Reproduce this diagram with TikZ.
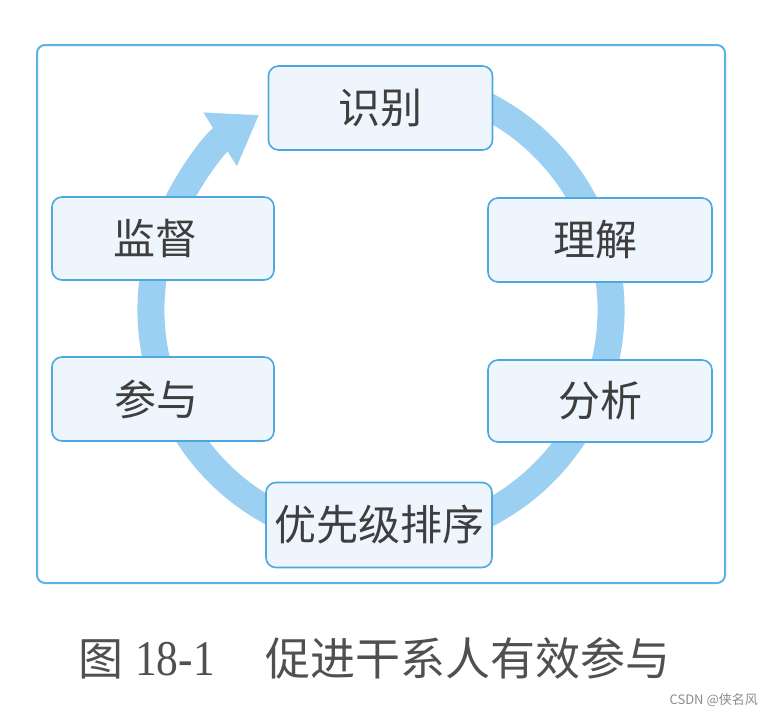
\documentclass[tikz,border=0pt]{standalone}
\usepackage{fontspec}
\newfontfamily\cjk{Noto Sans CJK SC}
\newfontfamily\numfont{Liberation Serif}
\usetikzlibrary{arrows.meta}
\definecolor{frameblue}{RGB}{95,178,228}
\definecolor{boxblue}{RGB}{78,168,224}
\definecolor{boxfill}{RGB}{238,245,252}
\definecolor{ringblue}{RGB}{156,208,243}
\definecolor{txtgray}{RGB}{62,62,62}
\definecolor{capgray}{RGB}{80,80,80}
\definecolor{markgray}{RGB}{140,140,140}
\begin{document}
\begin{tikzpicture}[x=1pt,y=-1pt,
  stagebox/.style={draw=boxblue, line width=1.6pt, fill=boxfill, rounded corners=10pt,
    minimum width=224pt, minimum height=84pt, inner sep=0pt,
    font=\cjk\fontsize{42}{46}\selectfont, text=txtgray},
  captext/.style={inner sep=0pt, text=capgray, anchor=base west}]
\useasboundingbox (0,0) rectangle (766,720);
\fill[white] (0,0) rectangle (766,720);
% outer frame
\node[draw=frameblue, line width=2pt, rounded corners=8pt, minimum width=688pt,
  minimum height=538pt, inner sep=0pt] (frame) at (381,314) {};
% cycle ring
\coordinate (c) at (381,310);
\draw[ringblue, line width=27pt, -{Triangle[width=60pt,length=46pt]}]
  ([shift={(70:230pt)}]c) arc[start angle=70, end angle=-238, radius=230pt];
% stages
\node[stagebox] (shibie) at (380.5,108) {识别};
\node[stagebox] (lijie) at (600,240) {\hspace*{-10pt}理解};
\node[stagebox, minimum height=82pt] (fenxi) at (600,401) {分析};
\node[stagebox, minimum width=226pt, minimum height=85pt] (paixu) at (379,525) {优先级排序};
\node[stagebox, minimum width=222pt] (canyu) at (163,399) {\hspace*{-14pt}参与};
\node[stagebox, minimum width=222pt, minimum height=83pt] (jiandu) at (163,238.5) {\hspace*{-16pt}监督};
% caption
\node[captext, font=\cjk\fontsize{45}{50}\selectfont] (tu) at (78,675) {图};
\node[captext, font=\numfont\fontsize{50}{55}\selectfont] (num) at (135,675) {\scalebox{0.87}[1]{18-1}};
\node[captext, font=\cjk\fontsize{45}{50}\selectfont] (title) at (265,675) {促进干系人有效参与};
% watermark
\node[inner sep=0pt, anchor=east, text=markgray, font=\cjk\fontsize{13}{15}\selectfont] (mark) at (758,700) {CSDN @侠名风};
\end{tikzpicture}
\end{document}
